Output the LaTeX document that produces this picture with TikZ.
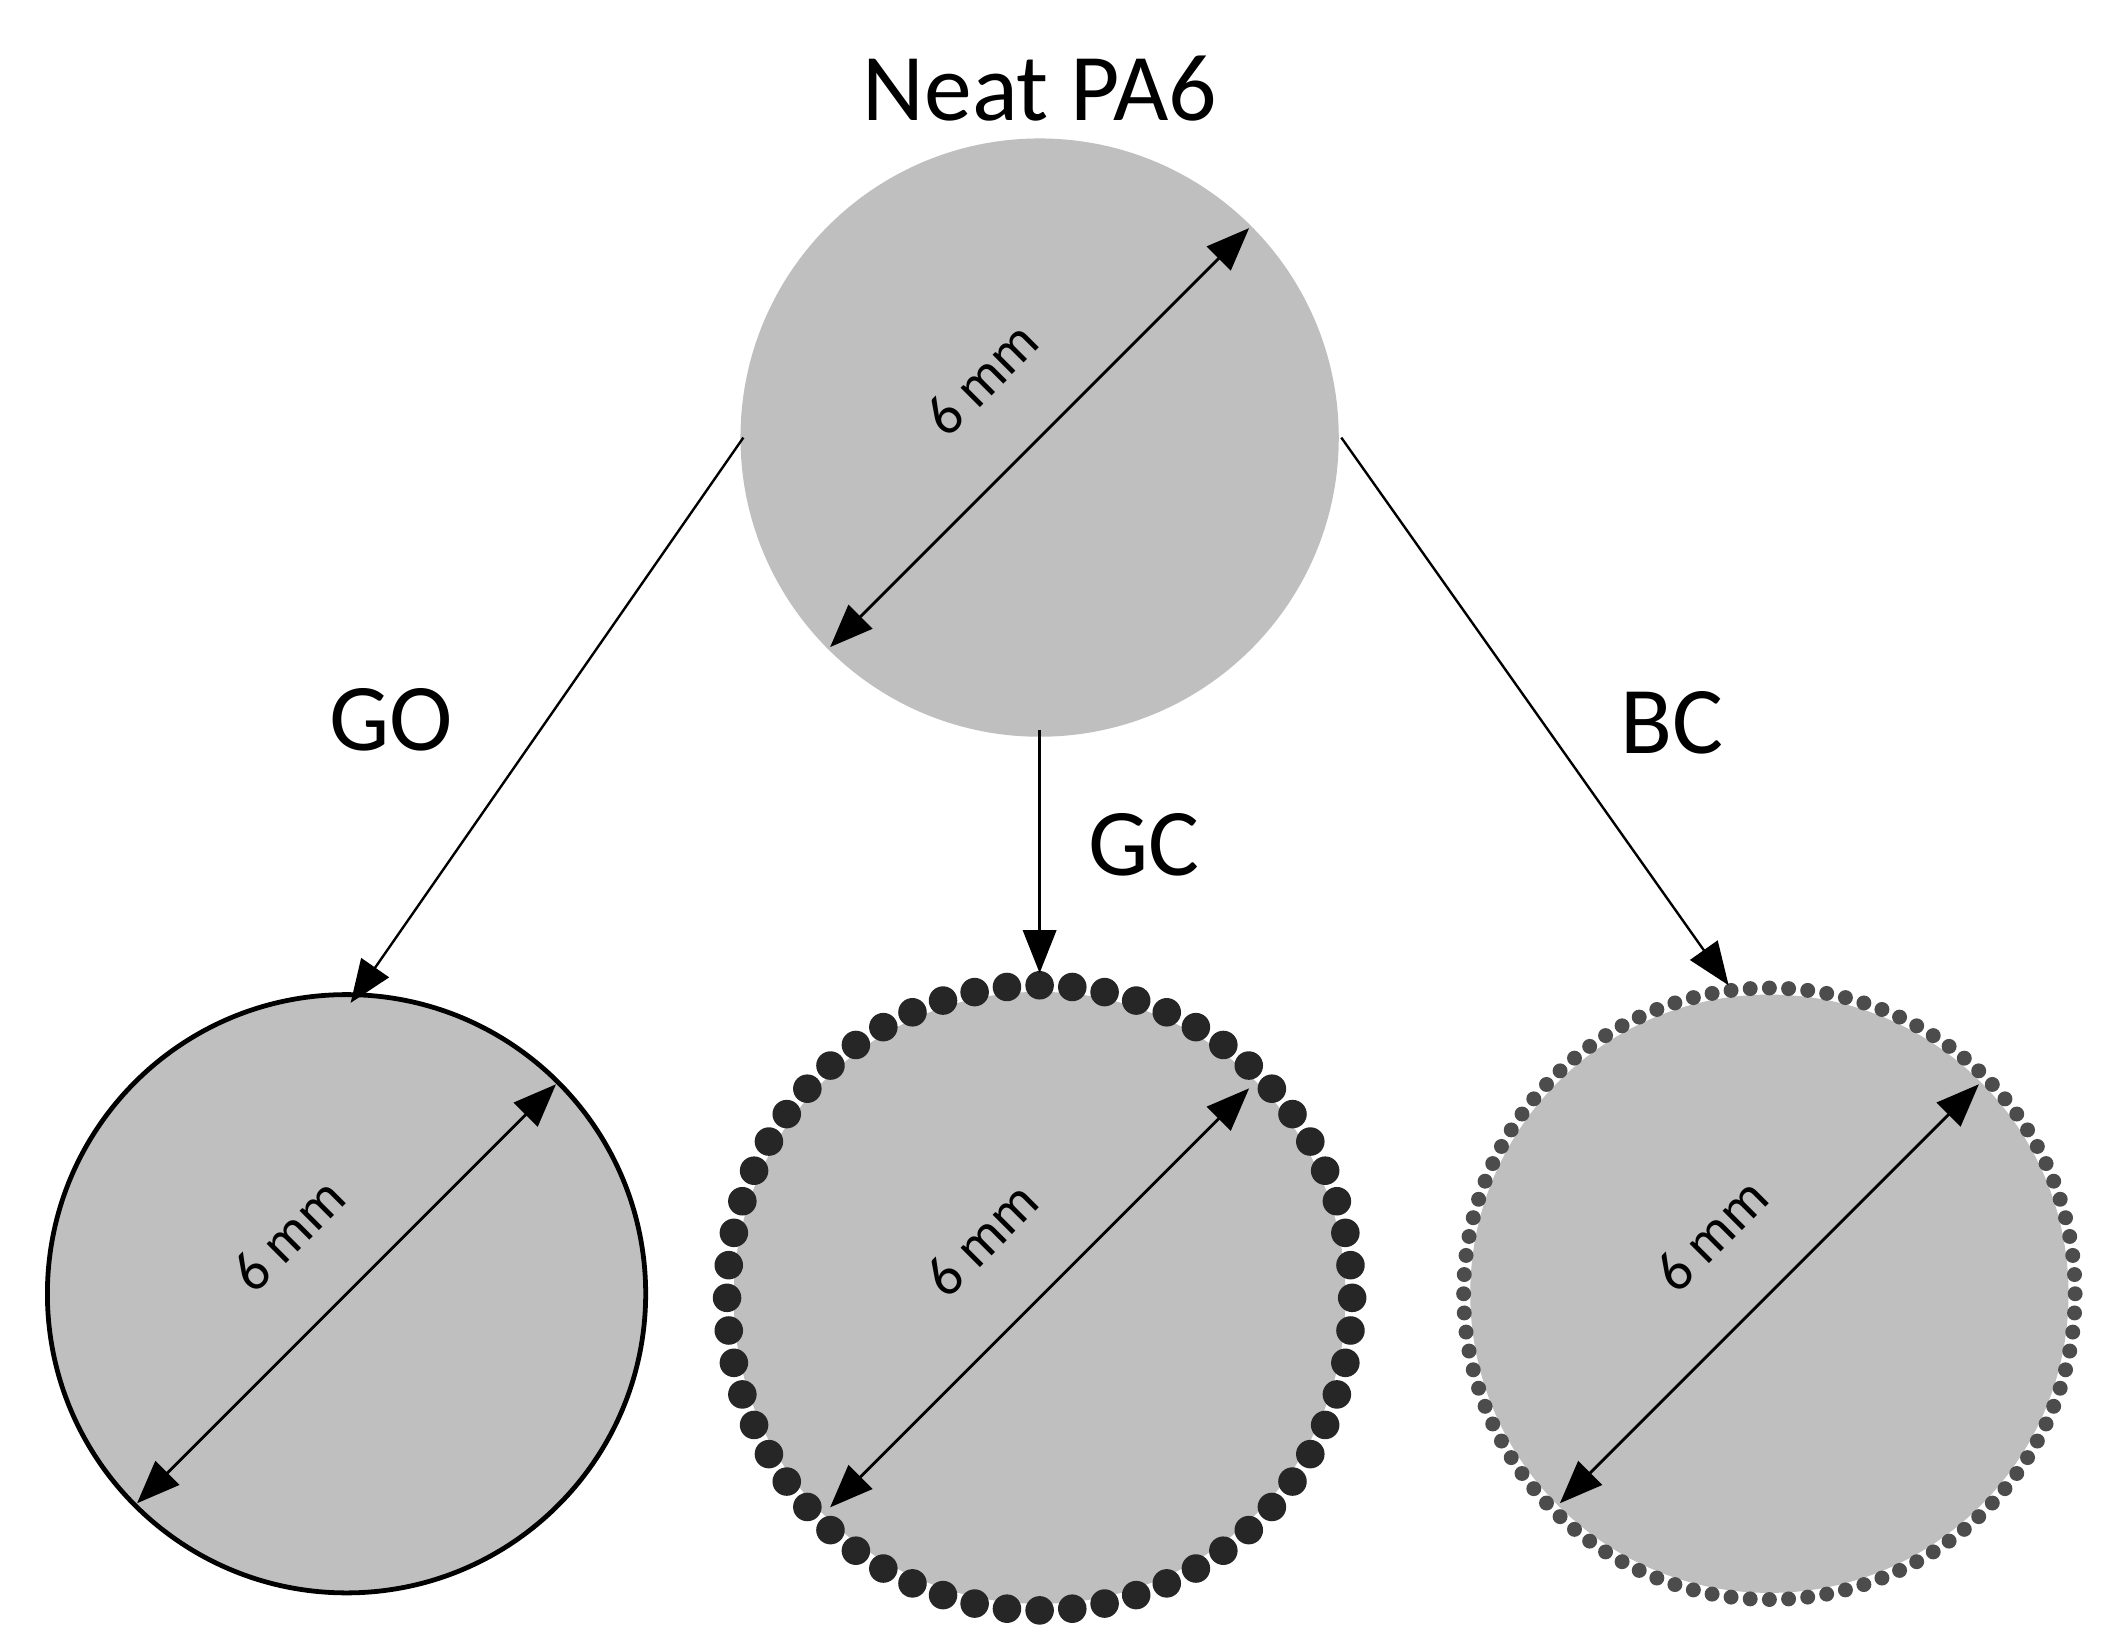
\documentclass[tikz,border=0pt]{standalone}
\usepackage{fontspec}
\setmainfont{Carlito}
\usetikzlibrary{arrows.meta,calc}
\begin{document}
\begin{tikzpicture}[x=0.01cm,y=-0.01cm,
  disc/.style={circle,fill=black!25,minimum size=4.4cm,inner sep=0pt},
  conn/.style={-{Triangle[length=9pt,width=7pt]},line width=0.5pt},
  dim/.style={{Triangle[length=9pt,width=7pt]}-{Triangle[length=9pt,width=7pt]},line width=0.6pt},
  big/.style={font=\fontsize{20}{24}\selectfont},
  small/.style={font=\fontsize{12}{14}\selectfont,rotate=45}]
\useasboundingbox (0,0) rectangle (1560,1215);
\node[big] (title) at (765,65) {Neat PA6};
\node[disc] (top) at (765,322) {};
\node[disc,draw=black,line width=1pt] (go) at (255,952) {};
\node[disc,minimum size=4.5cm] (gc) at (765,955) {};
\node[disc] (bc) at (1302,952) {};
\foreach \i in {0,...,59}
  \fill[black!85] (gc.center) ++(\i*6:230) circle (10.5);
\foreach \i in {0,...,99}
  \fill[black!70] (bc.center) ++(\i*3.6:225) circle (5.5);
\foreach \n in {top,go,gc,bc}{
  \coordinate (\n a) at ($(\n.center)+(135:218)$);
  \coordinate (\n b) at ($(\n.center)+(-45:218)$);
  \draw[dim] (\n a) -- (\n b);
  \node[small,anchor=south,inner sep=5pt] (\n l) at ($(\n.center)+(-20,-20)$) {6 mm};
}
\coordinate (l1) at (547,322);
\coordinate (l2) at (258,738);
\coordinate (m1) at (765,537);
\coordinate (m2) at (765,716);
\coordinate (r1) at (987,322);
\coordinate (r2) at (1272,725);
\draw[conn] (l1) -- (l2);
\draw[conn] (m1) -- (m2);
\draw[conn] (r1) -- (r2);
\node[big] (lgo) at (288,530) {GO};
\node[big] (lgc) at (842,622) {GC};
\node[big] (lbc) at (1230,532) {BC};
\end{tikzpicture}
\end{document}
